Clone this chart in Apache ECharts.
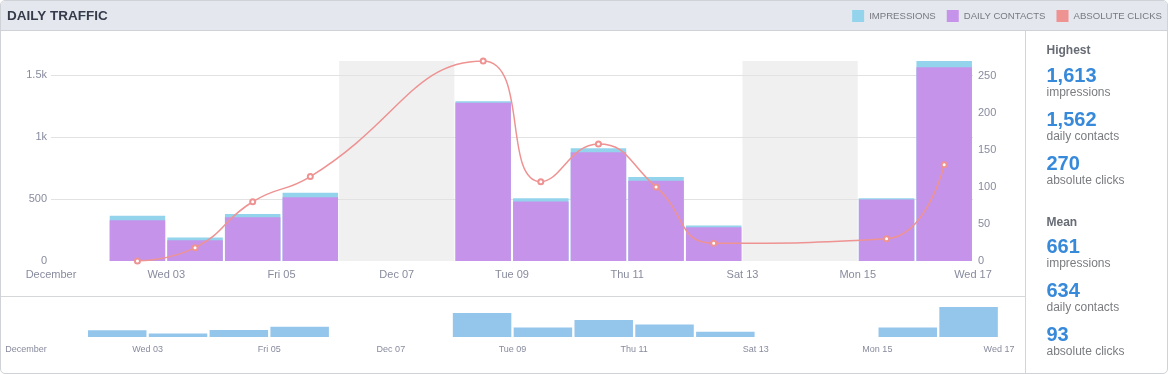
<!DOCTYPE html>
<html>
<head>
<meta charset="utf-8">
<script src="https://cdn.jsdelivr.net/npm/echarts@6/dist/echarts.min.js"></script>
<style>
  html, body { margin: 0; padding: 0; background: #fff; }
  #frame { position: absolute; left: 0; top: 0; width: 1166px; height: 372px; border: 1px solid #cfd2d6; border-radius: 5px; overflow: hidden; background: #fff; }
  #header { position: absolute; left: 0; top: 0; width: 1166px; height: 29px; background: #e4e8ee; border-bottom: 1px solid #cfd2d6; }
  #vdiv { position: absolute; left: 1024px; top: 30px; width: 1px; height: 342px; background: #d3d5d8; }
  #hdiv { position: absolute; left: 0; top: 295px; width: 1024px; height: 1px; background: #d6d7d9; }
  #chart { position: absolute; left: 0; top: 0; width: 1168px; height: 374px; }
</style>
</head>
<body>
<div id="frame"><div id="header"></div><div id="vdiv"></div><div id="hdiv"></div></div>
<div id="chart"></div>
<script>
// ---- data ----
const days = [2, 3, 4, 5, 8, 9, 10, 11, 12, 15, 16];            // day of December
const impressions = [365, 189, 380, 550, 1288, 506, 910, 678, 286, 506, 1613];
const contacts    = [329, 167, 353, 514, 1276, 480, 878, 648, 272, 495, 1562];
const clicks      = [0, 18, 80, 114, 270, 107, 158, 100, 24, 30, 130];
const weekendStarts = [6, 13];                                  // Saturdays (2-day weekends)
const xTickLabels = ['December', 'Wed 03', 'Fri 05', 'Dec 07', 'Tue 09', 'Thu 11', 'Sat 13', 'Mon 15', 'Wed 17'];
const seriesNames = ['IMPRESSIONS', 'DAILY CONTACTS', 'ABSOLUTE CLICKS'];
const statLabels = ['impressions', 'daily contacts', 'absolute clicks'];

// ---- helpers ----
const FONT = '"Liberation Sans", Arial, Helvetica, sans-serif';
const xPos = d => d - 1 + 0.5;          // days since Dec 1 00:00, at noon
const pts = vals => days.map((d, i) => [xPos(d), vals[i]]);
const maxOf = a => Math.max(...a);
const meanOf = a => Math.floor(a.reduce((s, v) => s + v, 0) / a.length);
const fmt = n => n.toLocaleString('en-US');

const C_IMP = '#93d4ec', C_CON = '#c594ea', C_CLK = '#ee9292', C_NAV = '#94c6ec';
const LABEL_C = '#888b9d';

const xFmt = v => xTickLabels[Math.round(v / 2)] || '';

// ---- stats panel ----
const highest = [maxOf(impressions), maxOf(contacts), maxOf(clicks)];
const means = [meanOf(impressions), meanOf(contacts), meanOf(clicks)];
const graphics = [];
function block(title, titleY, vals, firstNumY) {
  graphics.push({ type: 'text', x: 1046.5, y: titleY, style: { text: title, font: 'bold 12px ' + FONT, fill: '#676b74', verticalAlign: 'middle' } });
  vals.forEach((v, i) => {
    const ny = firstNumY + i * 44;
    graphics.push({ type: 'text', x: 1046.5, y: ny, style: { text: fmt(v), font: 'bold 20px ' + FONT, fill: '#3789d9', verticalAlign: 'middle' } });
    graphics.push({ type: 'text', x: 1046.5, y: ny + 16.2, style: { text: statLabels[i], font: '12px ' + FONT, fill: '#7a7c80', verticalAlign: 'middle' } });
  });
}
block('Highest', 50.8, highest, 76.3);
block('Mean', 222.5, means, 247.4);

const chart = echarts.init(document.getElementById('chart'), null, { renderer: 'canvas' });
chart.setOption({
  animation: false,
  backgroundColor: 'transparent',
  textStyle: { fontFamily: FONT },
  title: { text: 'DAILY TRAFFIC', left: 7, top: 9, padding: 0,
    textStyle: { fontFamily: FONT, fontSize: 13.5, fontWeight: 'bold', color: '#353b4b' } },
  legend: {
    data: [
      { name: seriesNames[0], itemStyle: { color: C_IMP, borderWidth: 0 } },
      { name: seriesNames[1], itemStyle: { color: C_CON, borderWidth: 0 } },
      { name: seriesNames[2], itemStyle: { color: C_CLK, borderWidth: 0 } }
    ],
    right: 6, top: 10, padding: 0, icon: 'rect', itemWidth: 12, itemHeight: 12, itemGap: 11,
    textStyle: { color: '#77797f', fontSize: 9.6, fontFamily: FONT }
  },
  graphic: graphics,
  grid: [
    { left: 51, right: 195, top: 61, height: 200, containLabel: false, outerBoundsMode: 'none' },
    { left: 26, right: 169, top: 307, height: 30, containLabel: false, outerBoundsMode: 'none' }
  ],
  xAxis: [
    { gridIndex: 0, type: 'value', min: 0, max: 16, interval: 2, z: 1,
      axisLine: { show: false }, axisTick: { show: false }, splitLine: { show: false },
      axisLabel: { formatter: xFmt, color: LABEL_C, fontSize: 11, margin: 8, showMinLabel: true, showMaxLabel: true, hideOverlap: false } },
    { gridIndex: 1, type: 'value', min: 0, max: 16, interval: 2,
      axisLine: { show: false }, axisTick: { show: false }, splitLine: { show: false },
      axisLabel: { formatter: xFmt, color: LABEL_C, fontSize: 9, margin: 8, showMinLabel: true, showMaxLabel: true, hideOverlap: false } }
  ],
  yAxis: [
    { gridIndex: 0, type: 'value', min: 0, max: maxOf(impressions), interval: 500, z: 1,
      axisLine: { show: false }, axisTick: { show: false },
      splitLine: { show: true, showMinLine: false, showMaxLine: false, lineStyle: { color: '#e2e2e2', width: 1 } },
      axisLabel: { color: LABEL_C, fontSize: 11, margin: 4, showMaxLabel: false,
        formatter: v => v >= 1000 ? (v / 1000) + 'k' : String(v) } },
    { gridIndex: 0, type: 'value', position: 'right', min: 0, max: maxOf(clicks), interval: 50,
      axisLine: { show: false }, axisTick: { show: false }, splitLine: { show: false },
      axisLabel: { color: LABEL_C, fontSize: 11, margin: 5, showMaxLabel: false } },
    { gridIndex: 2 - 1, type: 'value', min: 0, max: maxOf(impressions), show: false, splitLine: { show: false } }
  ],
  series: [
    { name: seriesNames[0], type: 'bar', xAxisIndex: 0, yAxisIndex: 0, data: pts(impressions),
      barWidth: 55.5, itemStyle: { color: C_IMP }, z: 2,
      markArea: { silent: true, z: 0, itemStyle: { color: '#f0f0f0' }, label: { show: false },
        data: weekendStarts.map(s => [{ xAxis: s - 1 }, { xAxis: s + 1 }]) } },
    { name: seriesNames[1], type: 'bar', xAxisIndex: 0, yAxisIndex: 0, data: pts(contacts),
      barWidth: 55.5, barGap: '-100%', itemStyle: { color: C_CON }, z: 2 },
    { name: seriesNames[2], type: 'line', xAxisIndex: 0, yAxisIndex: 1, data: pts(clicks),
      smooth: 0.5, symbol: 'emptyCircle', symbolSize: 5, showAllSymbol: true, z: 4,
      itemStyle: { color: C_CLK, borderWidth: 1.5 }, lineStyle: { color: C_CLK, width: 1.5 } },
    { name: 'overview', type: 'bar', xAxisIndex: 1, yAxisIndex: 2, data: pts(impressions),
      barWidth: 58.5, itemStyle: { color: C_NAV } }
  ]
});
</script>
</body>
</html>
